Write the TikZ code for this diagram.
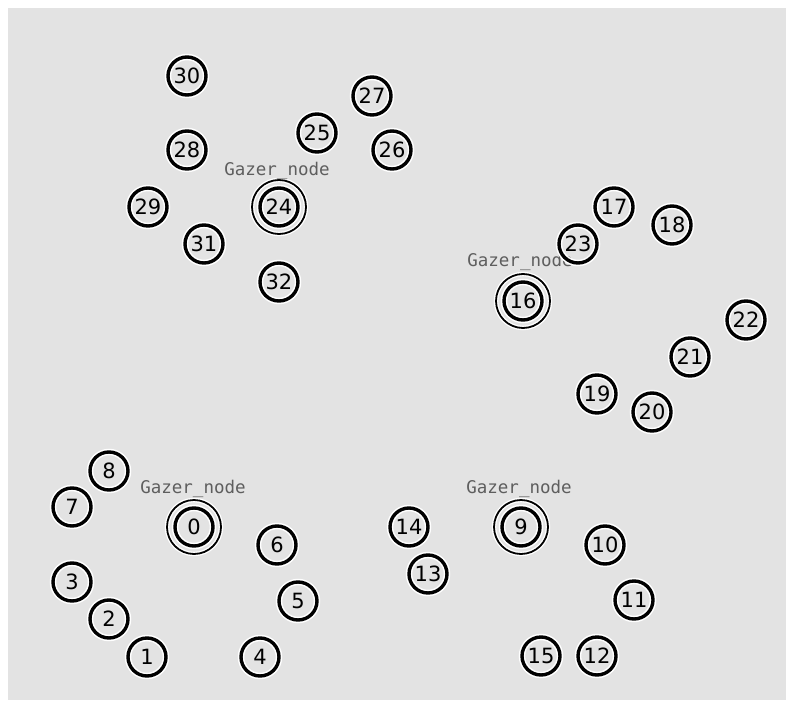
\documentclass[tikz,border=0pt]{standalone}
\usepackage{fontspec}
\newfontfamily\numfont{DejaVu Sans}
\newfontfamily\labfont{DejaVu Sans Mono}
\definecolor{bggray}{HTML}{E3E3E3}
\definecolor{labgray}{HTML}{5E5E5E}
\tikzset{
  nd/.style={circle, draw=black, line width=3.4pt, minimum size=38pt, inner sep=0pt,
    preaction={draw=white, line width=6.5pt},
    font=\numfont\fontsize{21}{21}\selectfont},
  gzring/.style={circle, draw=black, line width=1.8pt, minimum size=54pt, inner sep=0pt,
    preaction={draw=white, line width=4.5pt}},
  glab/.style={text=labgray, inner sep=0pt, font=\labfont\fontsize{17.5}{17.5}\selectfont}
}
\begin{document}
\begin{tikzpicture}[x=1pt,y=-1pt]
\useasboundingbox (0,0) rectangle (786,703);
\fill[white] (0,0) rectangle (786,703);
\fill[bggray] (8,8) rectangle (786,700);
% gazer rings
\node[gzring] (r24) at (279,207) {};
\node[gzring] (r16) at (523,301) {};
\node[gzring] (r0) at (194,527) {};
\node[gzring] (r9) at (521,527) {};
% labels
\node[glab] (l24) at (277,171) {Gazer\_node};
\node[glab] (l16) at (520,262) {Gazer\_node};
\node[glab] (l0) at (193,489) {Gazer\_node};
\node[glab] (l9) at (519,489) {Gazer\_node};
% nodes
\node[nd] (n30) at (187,76) {30};
\node[nd] (n27) at (372,96) {27};
\node[nd] (n25) at (317,133) {25};
\node[nd] (n28) at (187,150) {28};
\node[nd] (n26) at (392,150) {26};
\node[nd] (n24) at (279,207) {24};
\node[nd] (n29) at (148,207) {29};
\node[nd] (n31) at (204,244) {31};
\node[nd] (n32) at (279,282) {32};
\node[nd] (n17) at (614,207) {17};
\node[nd] (n18) at (672,225) {18};
\node[nd] (n23) at (578,244) {23};
\node[nd] (n16) at (523,301) {16};
\node[nd] (n22) at (746,320) {22};
\node[nd] (n21) at (690,357) {21};
\node[nd] (n19) at (597,394) {19};
\node[nd] (n20) at (652,412) {20};
\node[nd] (n8) at (109,471) {8};
\node[nd] (n7) at (72,507) {7};
\node[nd] (n0) at (194,527) {0};
\node[nd] (n6) at (277,545) {6};
\node[nd] (n14) at (409,527) {14};
\node[nd] (n9) at (521,527) {9};
\node[nd] (n10) at (605,545) {10};
\node[nd] (n3) at (72,582) {3};
\node[nd] (n5) at (298,601) {5};
\node[nd] (n13) at (428,574) {13};
\node[nd] (n11) at (634,600) {11};
\node[nd] (n2) at (109,619) {2};
\node[nd] (n1) at (147,657) {1};
\node[nd] (n4) at (260,657) {4};
\node[nd] (n15) at (541,656) {15};
\node[nd] (n12) at (597,656) {12};
\end{tikzpicture}
\end{document}
